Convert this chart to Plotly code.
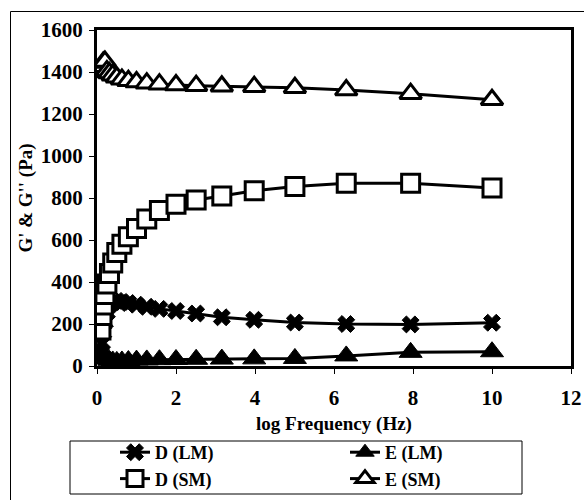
import plotly.graph_objects as go

freq = [0.1, 0.126, 0.158, 0.2, 0.251, 0.316, 0.398, 0.501, 0.631, 0.794,
        1.0, 1.26, 1.58, 2.0, 2.51, 3.16, 3.98, 5.01, 6.31, 7.94, 10.0]

d_lm = [60, 110, 160, 210, 255, 290, 305, 310, 305, 300,
        292, 282, 272, 262, 250, 232, 220, 207, 200, 198, 206]
e_lm = [70, 58, 48, 40, 33, 27, 24, 22, 24, 26,
        28, 29, 30, 31, 32, 33, 34, 36, 48, 65, 68]
d_sm = [172, 240, 290, 340, 390, 440, 490, 540, 580, 615,
        655, 700, 740, 770, 790, 810, 835, 855, 870, 870, 848]
e_sm = [1400, 1425, 1445, 1450, 1405, 1395, 1385, 1375, 1365, 1358,
        1352, 1347, 1342, 1338, 1335, 1332, 1330, 1325, 1314, 1297, 1268]

names = ["D (LM)", "E (LM)", "D (SM)", "E (SM)"]

FONT = "Liberation Serif"

fig = go.Figure()
styles = [
    (d_lm, dict(symbol="x", size=15, color="black", line=dict(color="black", width=1))),
    (e_lm, dict(symbol="triangle-up", size=20, color="black", line=dict(color="black", width=1))),
    (d_sm, dict(symbol="square", size=18, color="white", line=dict(color="black", width=3))),
    (e_sm, dict(symbol="triangle-up", size=19, color="white", line=dict(color="black", width=3))),
]
for name, (vals, mk) in zip(names, styles):
    fig.add_trace(go.Scatter(
        x=freq, y=vals, name="<b>" + name + "</b>", mode="lines+markers",
        line=dict(color="black", width=3), marker=mk,
    ))

W, H = 584, 500
L, R, T, B = 97, 13, 30, 134
pw, ph = W - L - R, H - T - B

def px2paper(px, py):
    return (px - L) / pw, (H - B - py) / ph

# outer chart frame (only top and left edges are inside the picture)
fx0, fy0 = px2paper(10.5, 11.5)
fx1, fy1 = px2paper(W + 5, H + 5)
fig.add_shape(type="line", xref="paper", yref="paper", x0=fx0, y0=fy0, x1=fx1, y1=fy0,
              line=dict(color="black", width=1), layer="below")
fig.add_shape(type="line", xref="paper", yref="paper", x0=fx0, y0=fy0, x1=fx0, y1=fy1,
              line=dict(color="black", width=1), layer="below")

# legend frame
bx0, by0 = px2paper(70, 441)
bx1, by1 = px2paper(522, 494)
fig.add_shape(type="rect", xref="paper", yref="paper", x0=bx0, y0=by1, x1=bx1, y1=by0,
              line=dict(color="black", width=1), fillcolor="white", layer="below")

lx, ly = px2paper(115, 434)

fig.update_layout(
    width=W, height=H,
    margin=dict(l=L, r=R, t=T, b=B, autoexpand=False),
    paper_bgcolor="white", plot_bgcolor="white",
    font=dict(family=FONT, color="black", size=18),
    showlegend=True,
    legend=dict(
        orientation="h", x=lx, y=ly, xanchor="left", yanchor="top",
        borderwidth=0, bgcolor="rgba(0,0,0,0)",
        entrywidth=185, entrywidthmode="pixels",
        font=dict(family=FONT, size=18, color="black"),
        tracegroupgap=0,
    ),
    xaxis=dict(
        range=[0, 12], dtick=2, tick0=0,
        showline=True, linecolor="black", linewidth=3, mirror=True,
        ticks="outside", ticklen=5, tickwidth=1, tickcolor="black",
        ticklabelstandoff=6,
        showgrid=False, zeroline=False,
        tickfont=dict(family=FONT, size=21, color="black"),
        title=dict(text="<b>log Frequency (Hz)</b>", standoff=8,
                   font=dict(family=FONT, size=19, color="black")),
    ),
    yaxis=dict(
        range=[0, 1600], dtick=200, tick0=0,
        showline=True, linecolor="black", linewidth=3, mirror=True,
        ticks="outside", ticklen=5, tickwidth=1, tickcolor="black",
        ticklabelstandoff=2,
        showgrid=False, zeroline=False,
        tickfont=dict(family=FONT, size=21, color="black"),
        title=dict(text="<b>G' & G'' (Pa)</b>", standoff=4,
                   font=dict(family=FONT, size=19, color="black")),
    ),
)
fig.update_xaxes(tickprefix="<b>", ticksuffix="</b>")
fig.update_yaxes(tickprefix="<b>", ticksuffix="</b>")

fig.write_html("out.html")
